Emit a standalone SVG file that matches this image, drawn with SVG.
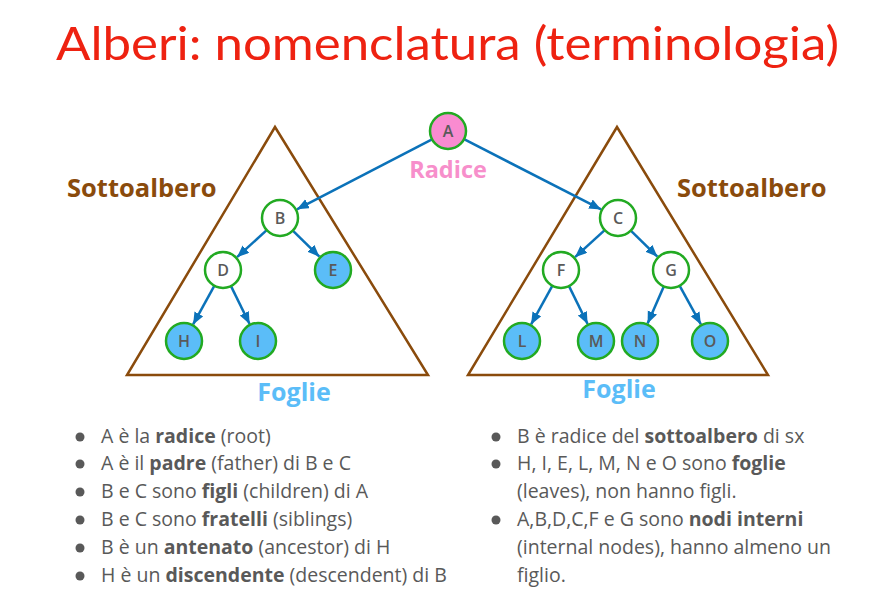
<svg xmlns="http://www.w3.org/2000/svg" width="894" height="603" viewBox="0 0 894 603">
  <style>
    .title { font-family: Lato, "Open Sans", sans-serif; font-size: 46px; fill: #ee2211; }
    .tri { fill: none; stroke: #8a4b0c; stroke-width: 2.5; }
    .sub { font-family: "Open Sans", sans-serif; font-weight: bold; font-size: 25.5px; fill: #8a4b0c; }
    .radice { font-family: "Open Sans", sans-serif; font-weight: bold; font-size: 23.5px; fill: #f78fcb; }
    .foglie { font-family: "Open Sans", sans-serif; font-weight: bold; font-size: 25px; fill: #5bbdf8; }
    .node circle { stroke: #22aa22; stroke-width: 2.5; fill: #ffffff; }
    .node.leaf circle { fill: #5bbdf8; }
    .node.root circle { fill: #f98bd0; }
    .node text { font-family: "Open Sans", sans-serif; font-weight: 600; font-size: 16px; fill: #5a5a5a; text-anchor: middle; }
    .edge { stroke: #0b72b9; stroke-width: 2.5; fill: none; marker-end: url(#arrow); }
    .bullets text { font-family: "Open Sans", sans-serif; font-size: 19.5px; fill: #595959; }
    .bullets tspan.b { font-weight: bold; }
    .dot { fill: #595959; }
  </style>
  <defs>
    <marker id="arrow" markerUnits="userSpaceOnUse" markerWidth="13" markerHeight="11" refX="12" refY="5" orient="auto">
      <path d="M0,0 L12,5 L0,10 z" fill="#0b72b9"/>
    </marker>
  </defs>

  <rect width="894" height="603" fill="#ffffff"/>

  <text class="title" x="56" y="60" textLength="783" lengthAdjust="spacingAndGlyphs">Alberi: nomenclatura (terminologia)</text>

  <!-- subtree outlines -->
  <polygon class="tri" points="275,127 127,375 428,375"/>
  <polygon class="tri" points="617,127 468,375 768,375"/>

  <text class="sub" x="67" y="197">Sottoalbero</text>
  <text class="sub" x="677" y="197">Sottoalbero</text>
  <text class="radice" x="448" y="178" text-anchor="middle">Radice</text>
  <text class="foglie" x="294" y="401" text-anchor="middle">Foglie</text>
  <text class="foglie" x="619" y="398" text-anchor="middle">Foglie</text>

  <!-- connectors -->
  <g id="edges">
    <line class="edge" x1="432.0" y1="139.3" x2="296.9" y2="209.3"/>
    <line class="edge" x1="464.0" y1="139.2" x2="601.1" y2="209.4"/>
    <line class="edge" x1="266.7" y1="230.1" x2="237.0" y2="257.2"/>
    <line class="edge" x1="292.8" y1="230.6" x2="319.4" y2="256.7"/>
    <line class="edge" x1="214.3" y1="285.8" x2="193.1" y2="324.4"/>
    <line class="edge" x1="231.0" y1="286.1" x2="249.6" y2="324.0"/>
    <line class="edge" x1="604.7" y1="230.1" x2="575.0" y2="257.2"/>
    <line class="edge" x1="630.8" y1="230.6" x2="657.4" y2="256.7"/>
    <line class="edge" x1="552.3" y1="285.8" x2="531.1" y2="324.4"/>
    <line class="edge" x1="569.0" y1="286.1" x2="587.6" y2="324.0"/>
    <line class="edge" x1="663.8" y1="286.5" x2="647.6" y2="323.6"/>
    <line class="edge" x1="679.7" y1="285.8" x2="700.9" y2="324.4"/>
  </g>

  <!-- nodes -->
  <g id="node-A" class="node root"><circle cx="448" cy="131" r="18"/><text x="448" y="137">A</text></g>
  <g id="node-B" class="node"><circle cx="280" cy="218" r="18"/><text x="280" y="224">B</text></g>
  <g id="node-C" class="node"><circle cx="618" cy="218" r="18"/><text x="618" y="224">C</text></g>
  <g id="node-D" class="node"><circle cx="223" cy="270" r="18"/><text x="223" y="276">D</text></g>
  <g id="node-E" class="node leaf"><circle cx="333" cy="270" r="18"/><text x="333" y="276">E</text></g>
  <g id="node-F" class="node"><circle cx="561" cy="270" r="18"/><text x="561" y="276">F</text></g>
  <g id="node-G" class="node"><circle cx="671" cy="270" r="18"/><text x="671" y="276">G</text></g>
  <g id="node-H" class="node leaf"><circle cx="184" cy="341" r="18"/><text x="184" y="347">H</text></g>
  <g id="node-I" class="node leaf"><circle cx="258" cy="341" r="18"/><text x="258" y="347">I</text></g>
  <g id="node-L" class="node leaf"><circle cx="522" cy="341" r="18"/><text x="522" y="347">L</text></g>
  <g id="node-M" class="node leaf"><circle cx="596" cy="341" r="18"/><text x="596" y="347">M</text></g>
  <g id="node-N" class="node leaf"><circle cx="640" cy="341" r="18"/><text x="640" y="347">N</text></g>
  <g id="node-O" class="node leaf"><circle cx="710" cy="341" r="18"/><text x="710" y="347">O</text></g>

  <!-- bullet lists -->
  <g class="bullets">
    <circle class="dot" cx="80" cy="437" r="4.5"/>
    <text x="101" y="443">A è la <tspan class="b">radice</tspan> (root)</text>
    <circle class="dot" cx="80" cy="464" r="4.5"/>
    <text x="101" y="470">A è il <tspan class="b">padre</tspan> (father) di B e C</text>
    <circle class="dot" cx="80" cy="492" r="4.5"/>
    <text x="101" y="498">B e C sono <tspan class="b">figli</tspan> (children) di A</text>
    <circle class="dot" cx="80" cy="520" r="4.5"/>
    <text x="101" y="526">B e C sono <tspan class="b">fratelli</tspan> (siblings)</text>
    <circle class="dot" cx="80" cy="548" r="4.5"/>
    <text x="101" y="554">B è un <tspan class="b">antenato</tspan> (ancestor) di H</text>
    <circle class="dot" cx="80" cy="576" r="4.5"/>
    <text x="101" y="582">H è un <tspan class="b">discendente</tspan> (descendent) di B</text>

    <circle class="dot" cx="496" cy="437" r="4.5"/>
    <text x="517" y="443">B è radice del <tspan class="b">sottoalbero</tspan> di sx</text>
    <circle class="dot" cx="496" cy="464" r="4.5"/>
    <text x="517" y="470">H, I, E, L, M, N e O sono <tspan class="b">foglie</tspan></text>
    <text x="517" y="498">(leaves), non hanno figli.</text>
    <circle class="dot" cx="496" cy="520" r="4.5"/>
    <text x="517" y="526">A,B,D,C,F e G sono <tspan class="b">nodi interni</tspan></text>
    <text x="517" y="554">(internal nodes), hanno almeno un</text>
    <text x="517" y="582">figlio.</text>
  </g>
</svg>
